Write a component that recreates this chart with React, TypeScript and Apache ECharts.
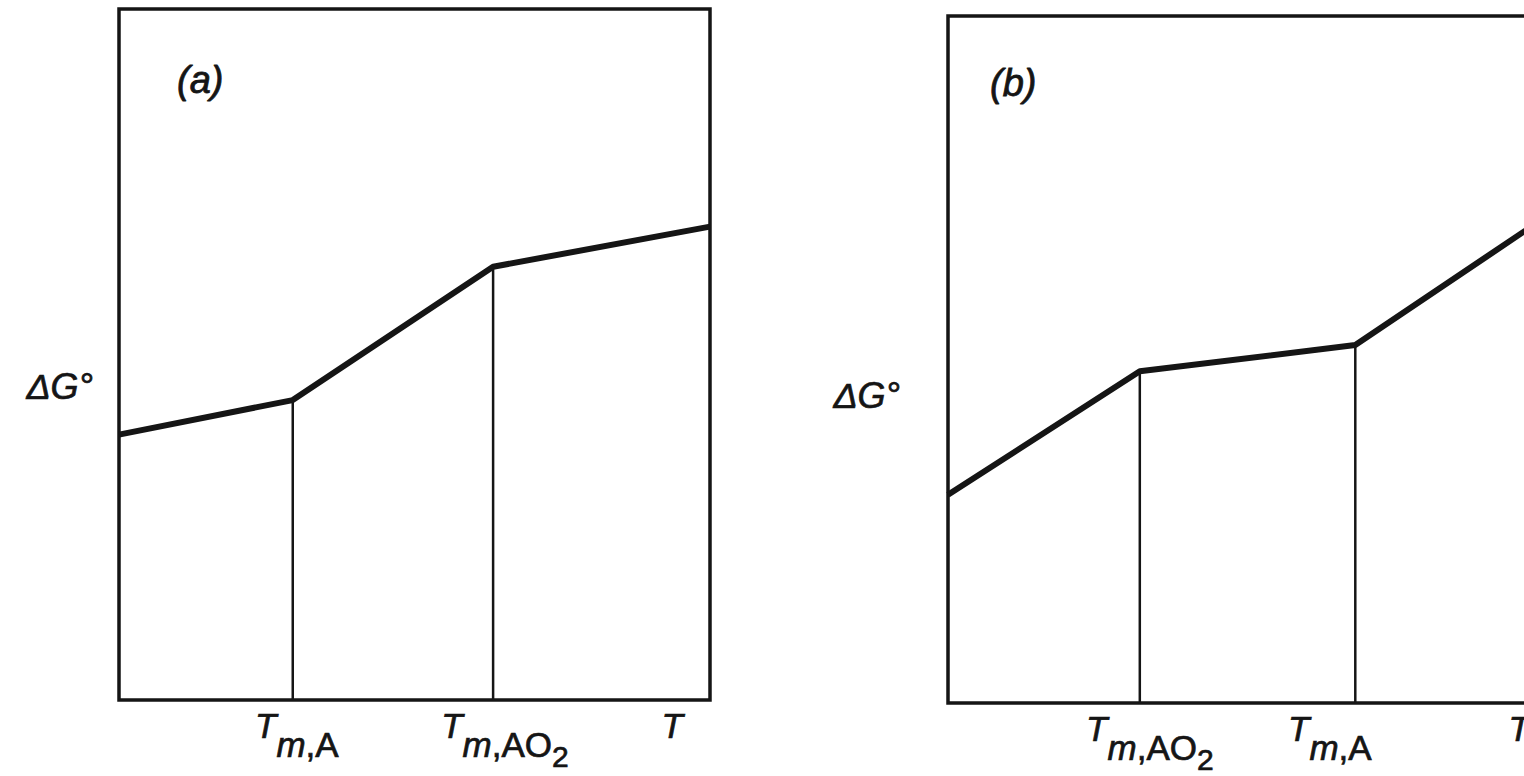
import React, { useEffect, useRef } from "react";
import * as echarts from "echarts";

const panelNames = ["(a)", "(b)"];

// Panel (a): ΔG° vs T, kinks at Tm,A then Tm,AO2 (relative units 0–100)
const curveA: number[][] = [[0, 38.4], [29.4, 43.4], [63.3, 62.7], [100, 68.5]];
const dropIdxA = [1, 2];
const xLabelValsA = [30.1, 65.3, 93.6];
const xLabelsA = ["{t|T}{m|m}{s|,A}", "{t|T}{m|m}{s|,AO}{n|2}", "{t|T}"];

// Panel (b): kinks at Tm,AO2 then Tm,A
const curveB: number[][] = [[0, 30.3], [32.4, 48.3], [68.8, 52.1], [100, 70.2]];
const dropIdxB = [1, 2];
const xLabelValsB = [34.1, 64.5, 96.5];
const xLabelsB = ["{t|T}{m|m}{s|,AO}{n|2}", "{t|T}{m|m}{s|,A}", "{t|T}"];

const yLabelValA = [45.4];
const yLabelValB = [44.7];
const yLabel = "{d|ΔG°}";

const INK = "#151515";
const FONT = "'Liberation Sans', Arial, Helvetica, sans-serif";

export default function App() {
  const ref = useRef<HTMLDivElement>(null);
  useEffect(() => {
    document.body.style.margin = "0";
    const chart = echarts.init(ref.current!, undefined, { renderer: "svg" });
    const thick = { textBorderColor: INK, textBorderWidth: 0.7 };
    const xRich = {
      t: { fontFamily: FONT, fontStyle: "italic", fontSize: 35, color: INK, verticalAlign: "top", lineHeight: 37, ...thick },
      m: { fontFamily: FONT, fontStyle: "italic", fontSize: 35, color: INK, verticalAlign: "top", lineHeight: 37, padding: [19, 0, 0, 0], ...thick },
      s: { fontFamily: FONT, fontSize: 35, color: INK, verticalAlign: "top", lineHeight: 37, padding: [19, 0, 0, 0], ...thick },
      n: { fontFamily: FONT, fontSize: 30, color: INK, verticalAlign: "top", lineHeight: 32, padding: [33, 0, 0, 0], ...thick },
    };
    const yRich = {
      d: { fontFamily: FONT, fontStyle: "italic", fontSize: 36, color: INK, ...thick },
    };
    const mkX = (gi: number, vals: number[], labels: string[]) => ({
      type: "value",
      gridIndex: gi,
      min: 0,
      max: 100,
      axisLine: { show: false },
      axisTick: { show: false },
      splitLine: { show: false },
      axisLabel: {
        customValues: vals,
        margin: 8,
        formatter: (v: number) => {
          const i = vals.findIndex((x) => Math.abs(x - v) < 1e-6);
          return i >= 0 ? labels[i] : "";
        },
        rich: xRich,
      },
    });
    const mkY = (gi: number, vals: number[], margin: number) => ({
      type: "value",
      gridIndex: gi,
      min: 0,
      max: 100,
      axisLine: { show: false },
      axisTick: { show: false },
      splitLine: { show: false },
      axisLabel: {
        customValues: vals,
        margin,
        formatter: () => yLabel,
        rich: yRich,
      },
    });
    const drops = (gi: number, curve: number[][], idx: number[]) =>
      idx.map((k) => ({
        type: "line",
        xAxisIndex: gi,
        yAxisIndex: gi,
        data: [[curve[k][0], 0], [curve[k][0], curve[k][1]]],
        symbol: "none",
        lineStyle: { color: INK, width: 2.5 },
        silent: true,
      }));
    const curve = (gi: number, data: number[][]) => ({
      type: "line",
      xAxisIndex: gi,
      yAxisIndex: gi,
      data,
      symbol: "none",
      lineStyle: { color: INK, width: 6, join: "round" },
      z: 5,
      silent: true,
    });
    const titleStyle = {
      fontFamily: FONT,
      fontStyle: "italic",
      fontWeight: "normal",
      fontSize: 38,
      color: INK,
      textBorderColor: INK,
      textBorderWidth: 0.8,
    };
    chart.setOption({
      animation: false,
      backgroundColor: "#ffffff",
      title: [
        { text: panelNames[0], left: 172, top: 56, textStyle: titleStyle },
        { text: panelNames[1], left: 985, top: 59, textStyle: titleStyle },
      ],
      grid: [
        { left: 119, top: 9, width: 591, height: 691, show: true, borderColor: INK, borderWidth: 3.5, backgroundColor: "transparent" },
        { left: 948, top: 16, width: 592, height: 687, show: true, borderColor: INK, borderWidth: 3.5, backgroundColor: "transparent" },
      ],
      xAxis: [mkX(0, xLabelValsA, xLabelsA), mkX(1, xLabelValsB, xLabelsB)],
      yAxis: [mkY(0, yLabelValA, 26), mkY(1, yLabelValB, 48)],
      series: [
        curve(0, curveA),
        ...drops(0, curveA, dropIdxA),
        curve(1, curveB),
        ...drops(1, curveB, dropIdxB),
      ],
    });
    return () => chart.dispose();
  }, []);
  return (
    <div style={{ position: "fixed", left: 0, top: 0, width: 1524, height: 776, overflow: "hidden", background: "#fff" }}>
      <div ref={ref} style={{ width: 1600, height: 776 }} />
    </div>
  );
}
